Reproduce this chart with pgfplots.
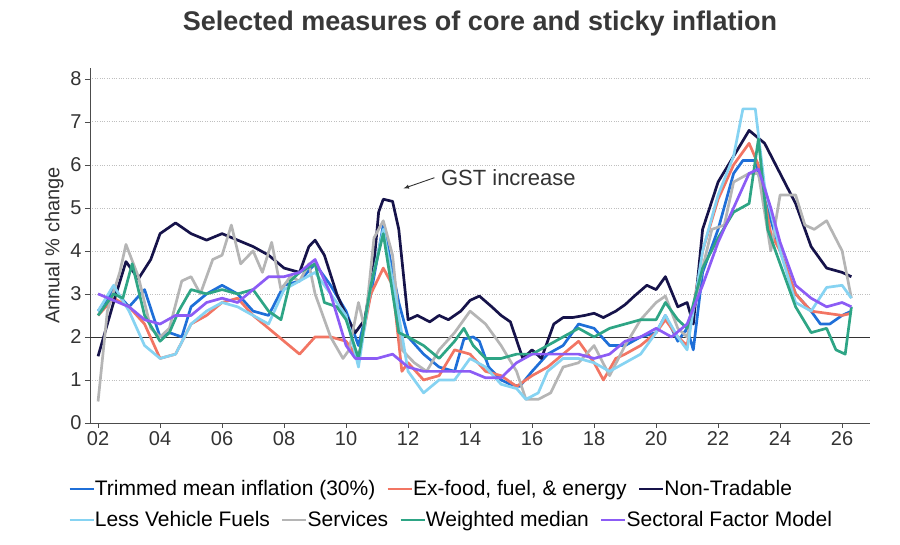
\documentclass[border=0pt]{standalone}
\usepackage{pgfplots}
\pgfplotsset{compat=1.18}
\usepackage{fontspec}
\setmainfont{Liberation Sans}
\definecolor{cTM}{HTML}{1F6FD8}
\definecolor{cEX}{HTML}{F27563}
\definecolor{cNT}{HTML}{16134A}
\definecolor{cLV}{HTML}{86D3F2}
\definecolor{cSV}{HTML}{B5B5B5}
\definecolor{cWM}{HTML}{2EA585}
\definecolor{cSF}{HTML}{8C5CF5}
\tikzset{ser/.style={#1, line width=2.7bp, line join=round}}
\begin{document}
\begin{tikzpicture}[x=1bp,y=1bp]
\useasboundingbox (-90,-122) rectangle (810,423);
\pgfplotsset{every axis/.append style={
  scale only axis, width=780bp, height=355bp, at={(0,0)}, anchor=south west,
  xmin=1.74, xmax=26.9, ymin=0, ymax=8.25,
  legend image code/.code={\draw[#1] (0bp,0bp) -- (24bp,0bp);},
  legend style={draw=none, fill=none, font=\fontsize{21bp}{24bp}\selectfont, inner sep=0pt,
    /tikz/every even column/.append style={column sep=9bp},
    /tikz/every odd column/.append style={column sep=-2bp}},
  legend columns=-1,
}}
\begin{axis}[
  axis x line*=bottom, axis y line*=left,
  axis line style={black!70, line width=0.6bp},
  xtick={2,4,...,26}, xticklabels={02,04,06,08,10,12,14,16,18,20,22,24,26},
  ytick={0,...,8},
  tick style={black!70}, xtick align=outside, ytick align=outside,
  major tick length=5bp,
  ticklabel style={font=\fontsize{20bp}{23bp}\selectfont, text=black!80},
  /pgf/number format/assume math mode=true,
  ymajorgrids, grid style={dotted, black!25, line width=0.6bp},
  ylabel={Annual \% change}, ylabel style={font=\fontsize{20bp}{23bp}\selectfont, text=black!80},
  title={\bfseries Selected measures of core and sticky inflation},
  title style={font=\fontsize{27bp}{30bp}\selectfont, text=black!78, yshift=22bp},
  legend style={at={(-22bp,-66bp)}, anchor=west},
]
\addplot[black!80, line width=0.8bp, forget plot] coordinates {(1.74,2) (26.9,2)};
\addplot[ser=cTM] coordinates {(2,2.6)(2.5,3.1)(3,2.7)(3.5,3.1)(4,2.0)(4.3,2.1)(4.7,2.0)(5,2.7)(5.5,3.0)(6,3.2)(6.5,3.0)(7,2.6)(7.5,2.5)(8,3.2)(8.5,3.3)(9,3.7)(9.5,3.2)(10,2.6)(10.4,1.8)(10.8,3.0)(11.2,4.6)(11.7,2.8)(12,2.0)(12.5,1.6)(13,1.3)(13.5,1.2)(13.8,1.95)(14.1,2.0)(14.3,1.9)(14.6,1.3)(15,1.0)(15.3,0.9)(15.6,0.85)(16,1.2)(16.5,1.6)(17,1.8)(17.5,2.3)(18,2.2)(18.5,1.8)(19,1.8)(19.5,2.0)(20,2.1)(20.3,2.5)(20.7,1.9)(21,2.2)(21.2,1.7)(21.5,3.5)(22,4.5)(22.5,5.8)(22.8,6.1)(23.2,6.1)(23.5,5.2)(24,4.0)(24.5,3.0)(25,2.6)(25.3,2.3)(25.6,2.3)(26,2.5)(26.3,2.6)};
\addlegendentry{Trimmed mean inflation (30\%)}
\addplot[ser=cEX] coordinates {(2,2.5)(2.5,2.9)(3,2.7)(3.5,2.3)(4,1.5)(4.5,1.6)(5,2.3)(5.5,2.5)(6,2.8)(6.5,2.9)(7,2.5)(7.5,2.2)(8,1.9)(8.5,1.6)(9,2.0)(9.5,2.0)(10,1.9)(10.4,1.5)(10.8,3.0)(11.2,3.6)(11.5,3.2)(11.8,1.2)(12,1.4)(12.5,1.0)(13,1.1)(13.5,1.7)(14,1.6)(14.5,1.2)(15,1.1)(15.5,0.85)(16,1.1)(16.5,1.3)(17,1.6)(17.5,1.9)(18,1.4)(18.3,1.0)(18.7,1.5)(19,1.6)(19.5,1.8)(20,2.1)(20.3,2.4)(20.7,2.0)(21,1.8)(21.5,4.0)(22,5.2)(22.5,6.0)(23,6.5)(23.3,6.0)(23.7,4.4)(24,4.0)(24.5,3.0)(25,2.6)(25.5,2.55)(26,2.5)(26.3,2.55)};
\addlegendentry{Ex-food, fuel, \& energy}
\addplot[ser=cNT] coordinates {(2,1.55)(2.5,2.8)(2.9,3.75)(3.3,3.35)(3.7,3.8)(4,4.4)(4.5,4.65)(5,4.4)(5.5,4.25)(6,4.4)(6.5,4.25)(7,4.1)(7.5,3.9)(8,3.6)(8.5,3.5)(8.8,4.1)(9,4.25)(9.3,3.9)(9.7,3.0)(10,2.5)(10.3,2.1)(10.6,2.4)(10.9,3.7)(11.05,4.9)(11.2,5.2)(11.5,5.15)(11.7,4.5)(12,2.4)(12.3,2.5)(12.7,2.35)(13,2.5)(13.3,2.4)(13.7,2.6)(14,2.85)(14.3,2.95)(14.7,2.7)(15,2.5)(15.3,2.35)(15.7,1.5)(16,1.7)(16.3,1.5)(16.7,2.3)(17,2.45)(17.3,2.45)(17.7,2.5)(18,2.55)(18.3,2.45)(18.7,2.6)(19,2.75)(19.3,2.95)(19.7,3.2)(20,3.1)(20.3,3.4)(20.7,2.7)(21,2.8)(21.2,2.3)(21.5,4.5)(22,5.6)(22.5,6.2)(23,6.8)(23.5,6.5)(24,5.8)(24.5,5.1)(25,4.1)(25.5,3.6)(26,3.5)(26.3,3.4)};
\addlegendentry{Non-Tradable}
\addplot[ser=cSV] coordinates {(2,0.5)(2.3,2.6)(2.7,3.5)(2.9,4.15)(3.3,3.4)(3.7,2.2)(4,2.0)(4.3,2.2)(4.7,3.3)(5,3.4)(5.3,3.0)(5.7,3.8)(6,3.9)(6.3,4.6)(6.6,3.7)(7,4.0)(7.3,3.5)(7.6,4.2)(7.9,3.1)(8.2,3.4)(8.5,3.3)(8.8,3.7)(9,3.0)(9.5,2.0)(9.9,1.5)(10.1,1.7)(10.4,2.8)(10.6,2.2)(10.9,4.3)(11.2,4.7)(11.5,3.9)(11.8,1.7)(12.2,1.4)(12.6,1.2)(13,1.7)(13.5,2.1)(14,2.6)(14.5,2.3)(15,1.8)(15.5,1.2)(15.8,0.55)(16.2,0.55)(16.6,0.7)(17,1.3)(17.5,1.4)(18,1.8)(18.5,1.1)(19,1.8)(19.5,2.4)(20,2.8)(20.3,2.95)(20.7,2.2)(21,2.0)(21.5,3.6)(21.8,4.5)(22.2,4.6)(22.5,5.6)(23,5.8)(23.3,5.8)(23.7,4.0)(24,5.3)(24.5,5.3)(24.8,4.6)(25.1,4.5)(25.5,4.7)(26,4.0)(26.3,2.9)};
\addplot[ser=cLV] coordinates {(2,2.6)(2.5,3.2)(3,2.6)(3.5,1.8)(4,1.5)(4.5,1.6)(5,2.3)(5.5,2.6)(6,2.8)(6.5,2.7)(7,2.5)(7.5,2.3)(8,3.1)(8.5,3.3)(9,3.5)(9.5,3.0)(10,2.5)(10.4,1.3)(10.8,3.2)(11.2,4.5)(11.7,2.5)(12,1.2)(12.5,0.7)(13,1.0)(13.5,1.0)(14,1.5)(14.5,1.3)(15,0.9)(15.5,0.8)(15.8,0.55)(16.2,0.7)(16.5,1.2)(17,1.5)(17.5,1.5)(18,1.4)(18.5,1.2)(19,1.4)(19.5,1.6)(20,2.1)(20.3,2.5)(20.7,2.0)(21,1.7)(21.5,4.0)(22,5.3)(22.5,6.2)(22.8,7.3)(23.2,7.3)(23.5,5.5)(24,4.0)(24.5,2.8)(25,2.6)(25.5,3.15)(26,3.2)(26.3,2.9)};
\addplot[ser=cWM] coordinates {(2,2.5)(2.5,3.0)(2.8,2.9)(3.1,3.7)(3.5,2.5)(4,1.9)(4.3,2.1)(4.6,2.6)(5,3.1)(5.5,3.0)(6,3.1)(6.5,3.0)(7,3.1)(7.5,2.6)(7.9,2.4)(8.2,3.3)(8.5,3.5)(9,3.7)(9.3,2.8)(9.7,2.7)(10,2.4)(10.4,1.5)(10.8,3.2)(11.2,4.4)(11.7,2.1)(12,2.0)(12.5,1.8)(13,1.5)(13.5,1.9)(13.8,2.2)(14.1,1.8)(14.5,1.5)(15,1.5)(15.5,1.6)(16,1.6)(16.5,1.8)(17,2.0)(17.5,2.2)(18,2.0)(18.5,2.2)(19,2.3)(19.5,2.4)(20,2.4)(20.3,2.8)(20.7,2.4)(21,2.2)(21.5,3.6)(22,4.3)(22.5,4.9)(23,5.1)(23.3,6.6)(23.6,4.5)(24,3.7)(24.5,2.7)(25,2.1)(25.5,2.2)(25.8,1.7)(26.1,1.6)(26.3,2.7)};
\addplot[ser=cSF] coordinates {(2,3.0)(2.5,2.85)(3,2.7)(3.5,2.4)(4,2.3)(4.5,2.5)(5,2.5)(5.5,2.8)(6,2.9)(6.5,2.8)(7,3.1)(7.5,3.4)(8,3.4)(8.5,3.5)(9,3.8)(9.5,3.0)(10,1.8)(10.3,1.5)(11,1.5)(11.5,1.6)(12,1.3)(12.5,1.2)(13,1.2)(13.5,1.2)(14,1.2)(14.5,1.05)(15,1.05)(15.5,1.4)(16,1.6)(16.5,1.6)(17,1.6)(17.5,1.6)(18,1.5)(18.5,1.6)(19,1.9)(19.5,2.0)(20,2.2)(20.5,2.0)(21,2.3)(21.5,3.2)(22,4.2)(22.5,5.0)(23,5.8)(23.3,5.9)(23.7,5.0)(24,4.2)(24.5,3.2)(25,2.9)(25.5,2.7)(26,2.8)(26.3,2.7)};
\draw[-latex, black!80, line width=0.9bp] (axis cs:12.85,5.7) -- (axis cs:11.85,5.45);
\node[anchor=west, font=\fontsize{22bp}{25bp}\selectfont, text=black!80] at (axis cs:12.95,5.7) {GST increase};
\end{axis}
\begin{axis}[hide axis, legend style={at={(-22bp,-97bp)}, anchor=west}]
\addlegendimage{ser=cLV}\addlegendentry{Less Vehicle Fuels}
\addlegendimage{ser=cSV}\addlegendentry{Services}
\addlegendimage{ser=cWM}\addlegendentry{Weighted median}
\addlegendimage{ser=cSF}\addlegendentry{Sectoral Factor Model}
\end{axis}
\end{tikzpicture}
\end{document}
